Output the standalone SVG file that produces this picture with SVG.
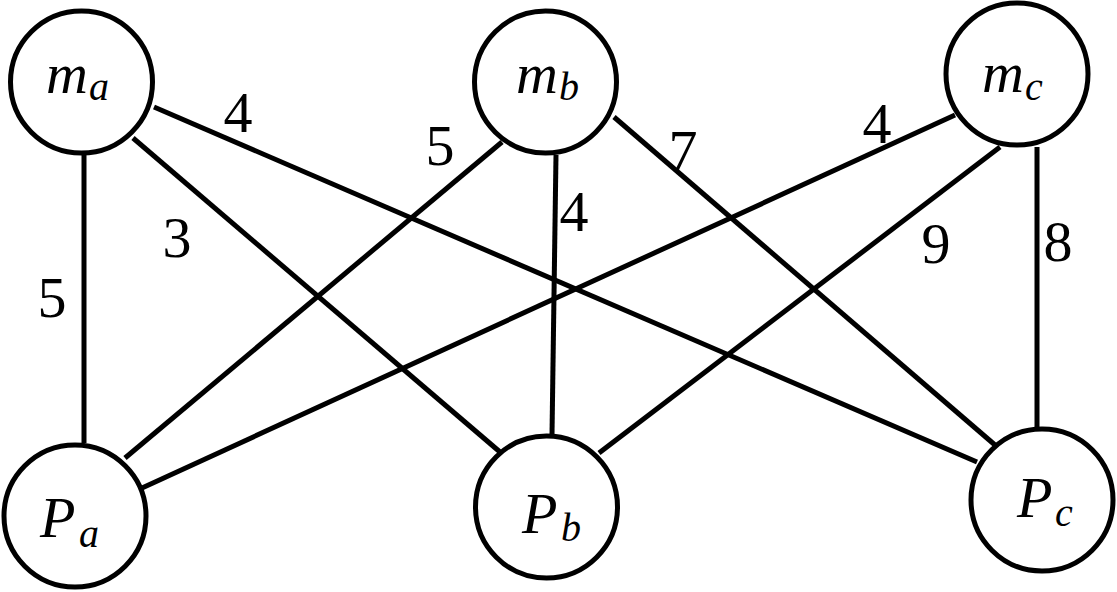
<svg xmlns="http://www.w3.org/2000/svg" width="1117" height="592" viewBox="0 0 1117 592">
<style>
.node circle{fill:#fff;stroke:#000;stroke-width:5}
.edges line{stroke:#000;stroke-width:5}
.lbl{font-style:italic;font-size:58px}
.sub{font-size:40px}
.w{font-size:58px;text-anchor:middle}
</style>
<rect width="1117" height="592" fill="#fff"/>
<g id="edges" class="edges">
<line x1="84" y1="155" x2="84" y2="443"/>
<line x1="133" y1="138" x2="500" y2="452"/>
<line x1="154" y1="107" x2="977" y2="462"/>
<line x1="502" y1="142" x2="125" y2="458"/>
<line x1="556" y1="155" x2="552" y2="435"/>
<line x1="614" y1="117" x2="995" y2="445"/>
<line x1="955" y1="115" x2="142" y2="488"/>
<line x1="1000" y1="147" x2="599" y2="453"/>
<line x1="1037" y1="147" x2="1037" y2="427"/>
</g>
<g id="weights" font-family="Liberation Serif, Times New Roman, serif" fill="#000">
<text class="w" x="52" y="317">5</text>
<text class="w" x="177" y="257">3</text>
<text class="w" x="238" y="132">4</text>
<text class="w" x="440" y="165">5</text>
<text class="w" x="683" y="170">7</text>
<text class="w" x="574" y="231">4</text>
<text class="w" x="877" y="143">4</text>
<text class="w" x="936" y="263">9</text>
<text class="w" x="1058" y="261">8</text>
</g>
<g id="nodes" font-family="Liberation Serif, Times New Roman, serif" fill="#000">
<g id="ma" class="node"><circle cx="81.5" cy="82" r="71"/><text class="lbl"><tspan x="46" y="93">m</tspan><tspan class="sub" x="89" y="100">a</tspan></text></g>
<g id="mb" class="node"><circle cx="545.5" cy="82" r="71"/><text class="lbl"><tspan x="516" y="93">m</tspan><tspan class="sub" x="559" y="100">b</tspan></text></g>
<g id="mc" class="node"><circle cx="1017" cy="74" r="71"/><text class="lbl"><tspan x="982" y="92">m</tspan><tspan class="sub" x="1025" y="100">c</tspan></text></g>
<g id="Pa" class="node"><circle cx="75" cy="516" r="71"/><text class="lbl"><tspan x="40" y="537">P</tspan><tspan class="sub" x="79" y="547">a</tspan></text></g>
<g id="Pb" class="node"><circle cx="546.5" cy="507" r="71"/><text class="lbl"><tspan x="522" y="533">P</tspan><tspan class="sub" x="561" y="541">b</tspan></text></g>
<g id="Pc" class="node"><circle cx="1042" cy="500" r="71"/><text class="lbl"><tspan x="1017" y="517">P</tspan><tspan class="sub" x="1055" y="526">c</tspan></text></g>
</g>
</svg>
